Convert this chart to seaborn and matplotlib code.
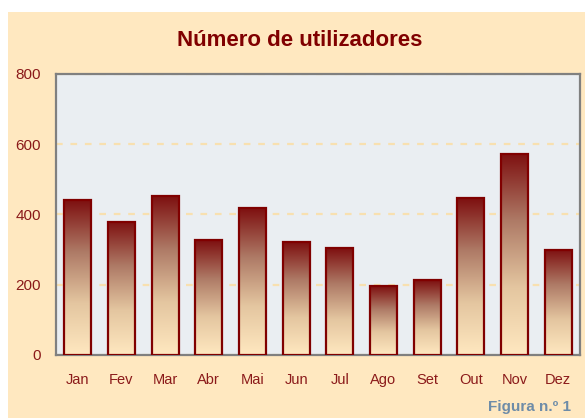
import numpy as np
import pandas as pd
import matplotlib
matplotlib.use("Agg")
import matplotlib.pyplot as plt
from matplotlib.colors import LinearSegmentedColormap
from matplotlib.patches import Rectangle
import seaborn as sns

# Data
meses = ["Jan", "Fev", "Mar", "Abr", "Mai", "Jun", "Jul", "Ago", "Set", "Out", "Nov", "Dez"]
utilizadores = [440, 379, 452, 326, 418, 321, 304, 196, 213, 446, 573, 299]
y_ticks = [0, 200, 400, 600, 800]

df = pd.DataFrame({"mes": meses, "n": utilizadores})

sns.set_theme(style="white")
plt.rcParams["font.family"] = ["Liberation Sans", "DejaVu Sans"]

dark_red = "#800000"
label_red = "#8B1A1A"
beige = "#FFE8C0"

fig = plt.figure(figsize=(5.85, 4.18), dpi=100)
fig.patch.set_facecolor("white")
# beige panel (white strip at top and left in the original)
fig.patches.append(Rectangle((8 / 585, 0), 1, (418 - 12) / 418, transform=fig.transFigure,
                             facecolor=beige, edgecolor="none", zorder=-10))

ax = fig.add_axes([56 / 585, 63 / 418, 524 / 585, 281 / 418])
ax.set_zorder(1)
ax.set_facecolor("#EAEEF2")

sns.barplot(data=df, x="mes", y="n", color=dark_red, width=0.62, ax=ax, zorder=3)

# gradient fill inside each bar
cmap = LinearSegmentedColormap.from_list("grad", [beige, "#E4C6A0", "#AE7A66", "#7E1010"])
grad = np.linspace(0, 1, 256).reshape(-1, 1)
for bar in ax.patches:
    x0, y0 = bar.get_x(), bar.get_y()
    w, h = bar.get_width(), bar.get_height()
    im = ax.imshow(grad, cmap=cmap, aspect="auto", origin="lower",
                   extent=[x0, x0 + w, y0, y0 + h], zorder=3)
    im.set_clip_path(bar)
    bar.set_facecolor("none")
    bar.set_edgecolor(dark_red)
    bar.set_linewidth(1.6)
    bar.set_zorder(4)

ax.set_xlim(-0.5, len(meses) - 0.5)
ax.set_ylim(0, 800)
ax.set_yticks(y_ticks)
ax.set_xlabel("")
ax.set_ylabel("")
ax.yaxis.grid(True, linestyle=(0, (3, 3.5)), color="#F8E0B0", linewidth=1.6, zorder=1)
ax.set_axisbelow(True)
ax.tick_params(axis="both", length=0, labelcolor=label_red)
ax.tick_params(axis="y", pad=11, labelsize=11)
ax.tick_params(axis="x", pad=13, labelsize=10.5)
for s in ax.spines.values():
    s.set_visible(True)
    s.set_color("#808080")
    s.set_linewidth(1.6)

fig.text(0.513, 0.903, "Número de utilizadores", ha="center", va="center",
         fontsize=16, fontweight="bold", color=dark_red)
fig.text(488 / 585, 0.027, "Figura n.º 1", ha="left", va="center",
         fontsize=11, fontweight="bold", color="#6E8CA8")

fig.savefig("out.png", dpi=100, facecolor=fig.get_facecolor())
